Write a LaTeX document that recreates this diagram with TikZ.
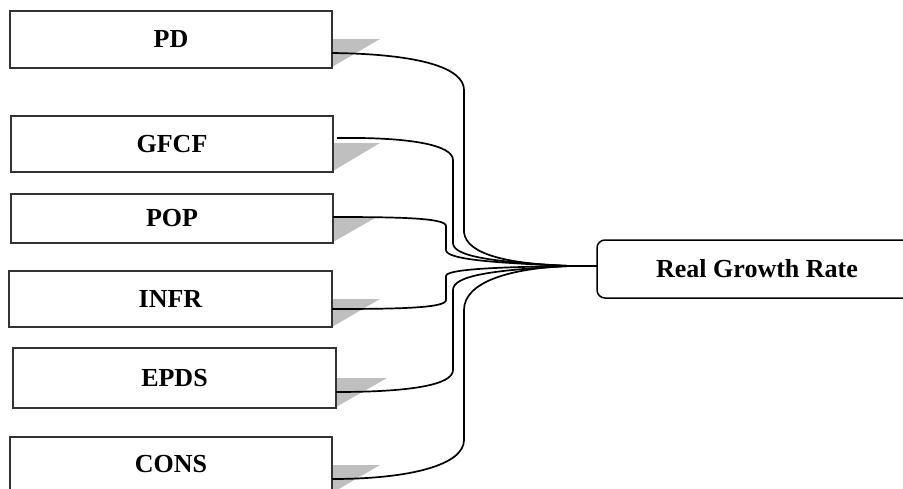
\documentclass[tikz,border=0pt]{standalone}
\usepackage{fontspec}
\setmainfont{Liberation Serif}
\begin{document}
\begin{tikzpicture}[x=1pt,y=-1pt,
  box/.style={draw=black!80, line width=1.2pt, fill=white, anchor=north west, inner sep=0pt, outer sep=0pt,
    font=\fontsize{26}{30}\selectfont\bfseries, align=center},
  tgt/.style={draw=black, line width=1.5pt, rounded corners=8pt, fill=white, anchor=north west, inner sep=0pt, outer sep=0pt,
    font=\fontsize{26}{30}\selectfont\bfseries},
  shade/.style={fill=black!25},
  conn/.style={draw=black, line width=1.7pt}]
\useasboundingbox (0,0) rectangle (903,488);
% shadows
\fill[shade] (332,39) -- (380,39) -- (332,67) -- cycle;
\fill[shade] (333,143) -- (380,143) -- (333,171) -- cycle;
\fill[shade] (333,218) -- (375,218) -- (333,242) -- cycle;
\fill[shade] (332,299) -- (380,299) -- (332,327) -- cycle;
\fill[shade] (336,378) -- (387,378) -- (336,407) -- cycle;
\fill[shade] (332,465) -- (380,465) -- (332,493) -- cycle;
% boxes
\node[box, minimum width=322pt, minimum height=57pt] (pd) at (10,11) {PD};
\node[box, minimum width=322pt, minimum height=56pt] (gfcf) at (11,116) {GFCF};
\node[box, minimum width=322pt, minimum height=49pt] (pop) at (11,194) {POP};
\node[box, minimum width=323pt, minimum height=56pt] (infr) at (9,271) {INFR};
\node[box, minimum width=323pt, minimum height=60pt] (epds) at (13,348) {EPDS};
\node[box, minimum width=322pt, minimum height=54pt] (cons) at (10,437) {CONS};
\node[tgt, minimum width=320pt, minimum height=58pt] (rgr) at (597,240) {Real Growth Rate};
\coordinate (conv) at (570,266);
% connectors
\draw[conn] ([yshift=-13.5pt]pd.east) .. controls (420,54) and (464,68) .. (464,90)
  -- (464,232) .. controls (466,255) and (510,264) .. (conv);
\draw[conn] ([xshift=4pt,yshift=6pt]gfcf.east) .. controls (410,137) and (453,145) .. (453,160)
  -- (453,243) .. controls (453,256) and (490,262) .. (conv);
\draw[conn] ([yshift=1.5pt]pop.east) .. controls (400,217) and (446,218) .. (446,226)
  -- (446,250) .. controls (446,260) and (500,263) .. (conv);
\draw[conn] ([yshift=-10pt]infr.east) .. controls (400,309) and (446,308) .. (446,300)
  -- (446,276) .. controls (446,269) and (500,267) .. (conv);
\draw[conn] ([yshift=-14pt]epds.east) .. controls (410,392) and (453,385) .. (453,370)
  -- (453,290) .. controls (453,276) and (490,270) .. (conv);
\draw[conn] ([yshift=-15pt]cons.east) .. controls (410,479) and (464,465) .. (464,440)
  -- (464,310) .. controls (464,282) and (510,268) .. (conv);
\draw[conn] (conv) -- (conv -| rgr.west);
\end{tikzpicture}
\end{document}
